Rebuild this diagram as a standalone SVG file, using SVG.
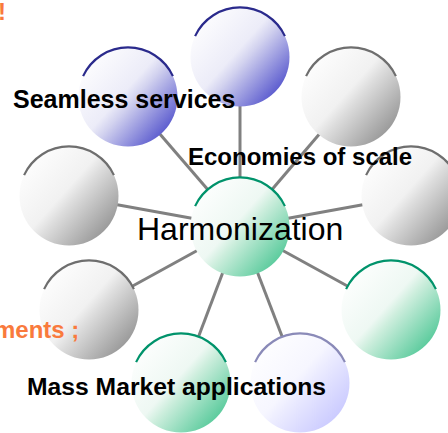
<svg xmlns="http://www.w3.org/2000/svg" xmlns:xlink="http://www.w3.org/1999/xlink" width="448" height="433" viewBox="0 0 448 433">
<style>
.conn{stroke:#808080;stroke-width:3;fill:none}
.lbl{font-family:"Liberation Sans",Arial,sans-serif;fill:#000}
.b{font-weight:bold}
.or{fill:#f97a3c;font-weight:bold}
.arc{fill:none;stroke-width:2.2}
</style>
<defs>
<linearGradient id="gBlue" x1="0.05" y1="0.1" x2="0.95" y2="0.9">
<stop offset="0" stop-color="#ffffff"/><stop offset="0.45" stop-color="#ececf8"/><stop offset="0.55" stop-color="#d2d2ef"/><stop offset="1" stop-color="#4444c8"/>
</linearGradient>
<linearGradient id="gGray" x1="0.05" y1="0.1" x2="0.95" y2="0.9">
<stop offset="0" stop-color="#ffffff"/><stop offset="0.45" stop-color="#f1f1f1"/><stop offset="0.55" stop-color="#dddddd"/><stop offset="1" stop-color="#8c8c8c"/>
</linearGradient>
<linearGradient id="gGreen" x1="0.05" y1="0.1" x2="0.95" y2="0.9">
<stop offset="0" stop-color="#ffffff"/><stop offset="0.45" stop-color="#eef8f3"/><stop offset="0.55" stop-color="#cdeedd"/><stop offset="1" stop-color="#44c490"/>
</linearGradient>
<linearGradient id="gLav" x1="0.05" y1="0.1" x2="0.95" y2="0.9">
<stop offset="0" stop-color="#ffffff"/><stop offset="0.45" stop-color="#f6f6ff"/><stop offset="0.55" stop-color="#ececff"/><stop offset="1" stop-color="#c4c4ff"/>
</linearGradient>
<g id="ballBlue"><circle r="49.5" fill="url(#gBlue)"/><path class="arc" stroke="#2a2a8c" d="M-44.9,-20.9 A49.5,49.5 0 0 1 44.9,-20.9"/></g>
<g id="ballGray"><circle r="49.5" fill="url(#gGray)"/><path class="arc" stroke="#6e6e6e" d="M-44.9,-20.9 A49.5,49.5 0 0 1 44.9,-20.9"/></g>
<g id="ballGreen"><circle r="49.5" fill="url(#gGreen)"/><path class="arc" stroke="#00936b" d="M-44.9,-20.9 A49.5,49.5 0 0 1 44.9,-20.9"/></g>
<g id="ballLav"><circle r="49.5" fill="url(#gLav)"/><path class="arc" stroke="#8a8ab8" d="M-44.9,-20.9 A49.5,49.5 0 0 1 44.9,-20.9"/></g>
</defs>
<rect width="448" height="433" fill="#ffffff"/>
<g id="connectors">
<line class="conn" x1="240" y1="227" x2="240" y2="57"/>
<line class="conn" x1="240" y1="227" x2="128" y2="97"/>
<line class="conn" x1="240" y1="227" x2="351" y2="97"/>
<line class="conn" x1="240" y1="227" x2="411" y2="196"/>
<line class="conn" x1="240" y1="227" x2="69" y2="196"/>
<line class="conn" x1="240" y1="227" x2="89" y2="310"/>
<line class="conn" x1="240" y1="227" x2="391" y2="310"/>
<line class="conn" x1="240" y1="227" x2="181" y2="383"/>
<line class="conn" x1="240" y1="227" x2="300" y2="383"/>
</g>
<g id="node-top"><use xlink:href="#ballBlue" x="240" y="57"/></g>
<g id="node-seamless"><use xlink:href="#ballBlue" x="128" y="97"/></g>
<g id="node-topright"><use xlink:href="#ballGray" x="351" y="97"/></g>
<g id="node-right"><use xlink:href="#ballGray" x="411" y="196"/></g>
<g id="node-left"><use xlink:href="#ballGray" x="69" y="196"/></g>
<g id="node-harmonization"><use xlink:href="#ballGreen" x="240" y="227"/></g>
<g id="node-lowerleft"><use xlink:href="#ballGray" x="89" y="310"/></g>
<g id="node-lowerright"><use xlink:href="#ballGreen" x="391" y="310"/></g>
<g id="node-massmarket"><use xlink:href="#ballGreen" x="181" y="383"/></g>
<g id="node-bottomright"><use xlink:href="#ballLav" x="300" y="383"/></g>
<g id="labels">
<text class="lbl b" x="13" y="108" font-size="25">Seamless services</text>
<text class="lbl b" x="188" y="165" font-size="24">Economies of scale</text>
<text class="lbl" x="137" y="240" font-size="32">Harmonization</text>
<text class="lbl b" x="27" y="395" font-size="24.7">Mass Market applications</text>
<text class="lbl or" x="-6" y="338" font-size="24">ments ;</text>
<text class="lbl or" x="-2" y="20" font-size="24">!</text>
</g>
</svg>
